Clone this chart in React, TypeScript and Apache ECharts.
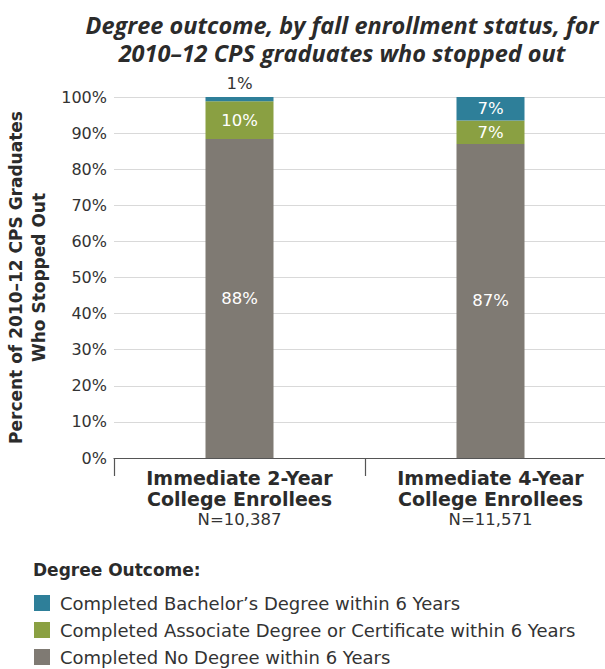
import React, { useEffect, useRef } from "react";
import * as echarts from "echarts";

const categories = ["Immediate 2-Year\nCollege Enrollees", "Immediate 4-Year\nCollege Enrollees"];
const sampleSizes = ["N=10,387", "N=11,571"];
const seriesNames = [
  "Completed Bachelor’s Degree within 6 Years",
  "Completed Associate Degree or Certificate within 6 Years",
  "Completed No Degree within 6 Years",
];
const noDegree = [88.4, 87.0];
const associate = [10.4, 6.5];
const bachelor = [1.2, 6.5];
const yTicks = [0, 10, 20, 30, 40, 50, 60, 70, 80, 90, 100];

const colors = { bachelor: "#2e7f99", associate: "#8aa042", none: "#7f7a73" };
const SANS = "'DejaVu Sans', 'Open Sans', sans-serif";
const TITLE_FONT = "'Open Sans', 'Liberation Sans', sans-serif";

export default function App() {
  const ref = useRef<HTMLDivElement>(null);
  useEffect(() => {
    if (!ref.current) return;
    const chart = echarts.init(ref.current, null, { renderer: "svg" });
    const fmt = (p: any) => `${Math.round(p.value)}%`;
    const insideLabel = {
      show: true,
      position: "inside",
      color: "#fff",
      fontSize: 16.5,
      fontFamily: SANS,
      formatter: fmt,
    };
    chart.setOption({
      animation: false,
      textStyle: { fontFamily: SANS },
      title: [
        {
          text: "Degree outcome, by fall enrollment status, for\n2010–12 CPS graduates who stopped out",
          left: 337,
          top: 6,
          textAlign: "center",
          textStyle: {
            fontSize: 23.5,
            fontWeight: "bold",
            fontStyle: "italic",
            color: "#2b2b2b",
            lineHeight: 28,
            fontFamily: TITLE_FONT,
          },
        },
        {
          text: "Degree Outcome:",
          left: 28,
          top: 556,
          textStyle: { fontSize: 17, fontWeight: "bold", color: "#2b2b2b", fontFamily: SANS },
        },
      ],
      legend: {
        orient: "vertical",
        left: 34,
        top: 594,
        height: 90,
        padding: 0,
        itemWidth: 16,
        itemHeight: 16,
        itemGap: 9,
        icon: "rect",
        data: seriesNames,
        textStyle: { fontSize: 18, color: "#333", padding: [0, 0, 0, 5], fontFamily: SANS },
        selectedMode: false,
      },
      grid: { left: 114, right: -11, top: 97, bottom: 211, containLabel: false, outerBoundsMode: "none" },
      xAxis: {
        type: "category",
        data: categories,
        axisLine: { lineStyle: { color: "#555", width: 1.2 } },
        axisTick: { show: true, length: 18, lineStyle: { color: "#555", width: 1.2 } },
        axisLabel: {
          margin: 9,
          interval: 0,
          formatter: (v: string, i: number) => {
            const lines = v.split("\n").map((l) => `{b|${l}}`).join("\n");
            return `${lines}\n{n|${sampleSizes[i]}}`;
          },
          rich: {
            b: { fontSize: 19, fontWeight: "bold", color: "#2b2b2b", lineHeight: 21, fontFamily: SANS },
            n: { fontSize: 16.5, color: "#333", lineHeight: 21, fontFamily: SANS },
          },
        },
      },
      yAxis: {
        type: "value",
        min: yTicks[0],
        max: yTicks[yTicks.length - 1],
        interval: 10,
        name: "Percent of 2010–12 CPS Graduates\nWho Stopped Out",
        nameLocation: "middle",
        nameRotate: 90,
        nameGap: 62,
        nameTextStyle: { fontSize: 17, fontWeight: "bold", color: "#2b2b2b", lineHeight: 23, fontFamily: SANS },
        axisLine: { show: false },
        axisTick: { show: false },
        axisLabel: { margin: 7, fontSize: 16, color: "#333", formatter: "{value}%", fontFamily: SANS },
        splitLine: { lineStyle: { color: "#d9d9d9", width: 1.2 } },
      },
      series: [
        {
          name: seriesNames[2],
          type: "bar",
          stack: "total",
          barWidth: 68,
          itemStyle: { color: colors.none },
          label: insideLabel,
          data: noDegree,
        },
        {
          name: seriesNames[1],
          type: "bar",
          stack: "total",
          barWidth: 68,
          itemStyle: { color: colors.associate },
          label: insideLabel,
          data: associate,
        },
        {
          name: seriesNames[0],
          type: "bar",
          stack: "total",
          barWidth: 68,
          itemStyle: { color: colors.bachelor },
          label: insideLabel,
          data: bachelor.map((v) =>
            v < 3 ? { value: v, label: { position: "top", color: "#333", distance: 5 } } : v
          ),
        },
      ],
    });
    return () => chart.dispose();
  }, []);
  return (
    <div
      ref={ref}
      style={{ position: "fixed", left: 0, top: 0, width: 605, height: 669, background: "#fff" }}
    />
  );
}
